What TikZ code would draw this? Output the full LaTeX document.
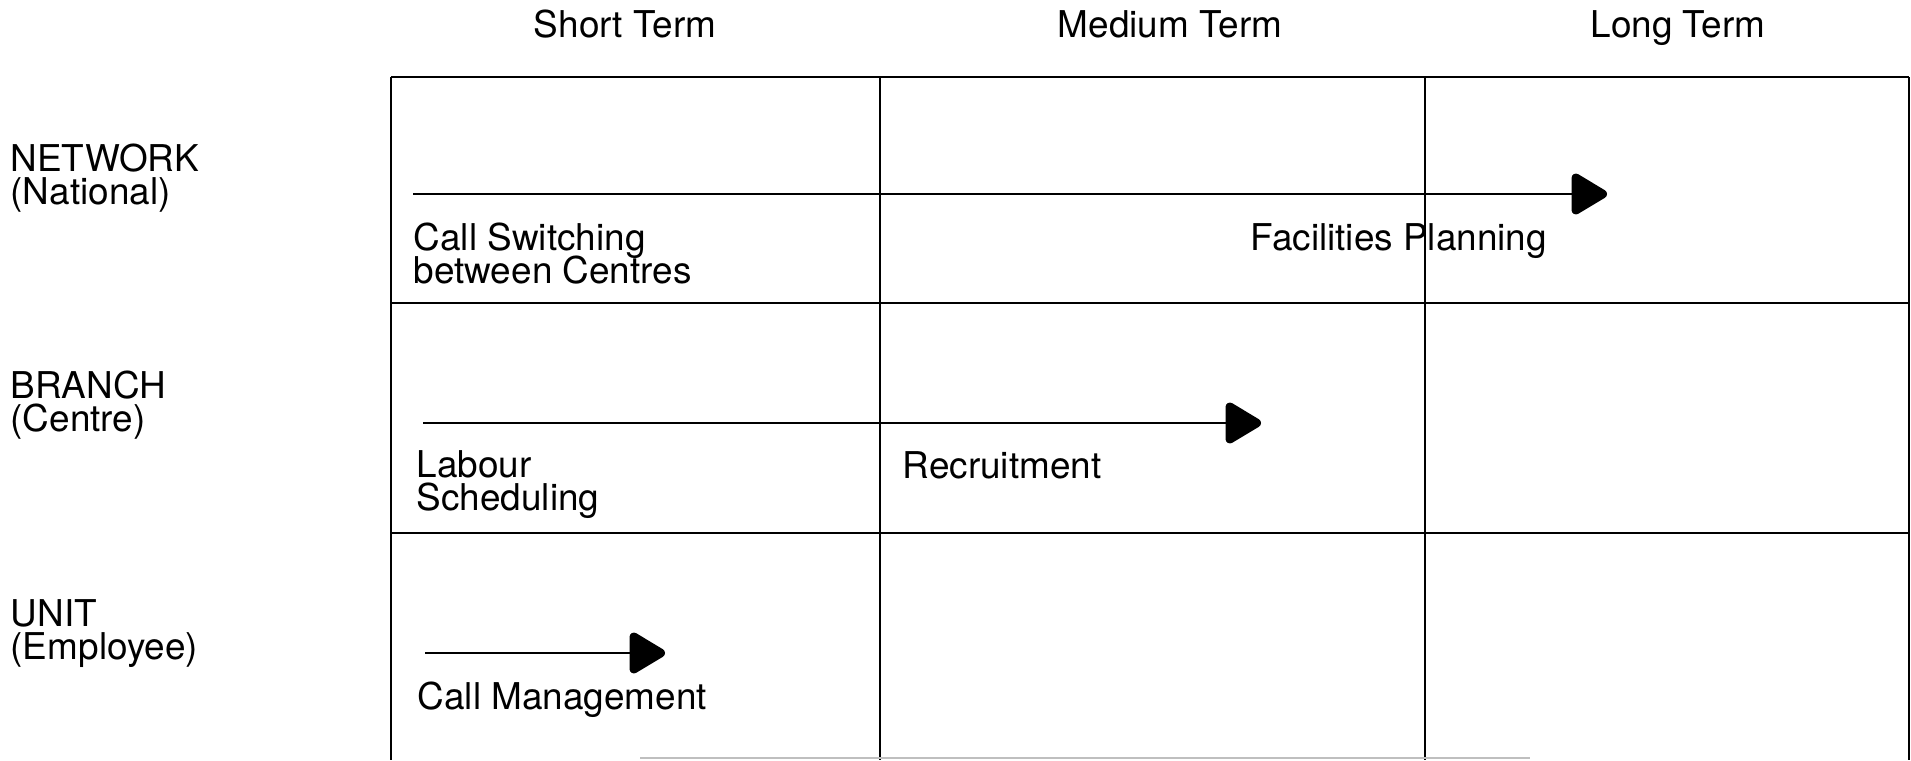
\documentclass[tikz,border=0pt]{standalone}
\usepackage{fontspec}
\setmainfont{TeX Gyre Heros}
\usetikzlibrary{arrows.meta}
\newcommand{\tightfont}{\fontsize{10.5}{9.4}\selectfont\lineskiplimit=-20pt\relax}

\begin{document}
\begin{tikzpicture}[x=0.01cm,y=-0.01cm]
\tikzstyle{every node}+=[inner sep=0pt]
\tikzstyle{lbl}=[font=\tightfont, align=left, anchor=west]
\tikzstyle{head}=[font=\tightfont, anchor=base]
\tikzstyle{grid}=[line width=0.8pt]
\tikzstyle{flow}=[line width=0.7pt, -{Triangle[length=4mm,width=4.5mm,round,line width'=2.5pt]}]
\useasboundingbox (0,0) rectangle (1911,760);
% column heads
\node[head] (short) at (625,37) {Short Term};
\node[head] (medium) at (1170,37) {Medium Term};
\node[head] (long) at (1678,37) {Long Term};
% row heads
\node[lbl] (network) at (10,178) {NETWORK\\(National)};
\node[lbl] (branch) at (10,405) {BRANCH\\(Centre)};
\node[lbl] (unit) at (10,634) {UNIT\\(Employee)};
% grid
\draw[grid] (391,77) -- (1909,77);
\draw[grid] (391,303) -- (1909,303);
\draw[grid] (391,533) -- (1909,533);
\draw[grid] (391,77) -- (391,760);
\draw[grid] (880,77) -- (880,760);
\draw[grid] (1425,77) -- (1425,760);
\draw[grid] (1909,77) -- (1909,760);
\draw[gray!50, line width=0.5pt] (640,758) -- (1530,758);
% arrows
\coordinate (fp0) at (413,194);
\coordinate (fp1) at (1607,194);
\draw[flow] (fp0) -- (fp1);
\coordinate (rc0) at (423,423);
\coordinate (rc1) at (1261,423);
\draw[flow] (rc0) -- (rc1);
\coordinate (cm0) at (425,653);
\coordinate (cm1) at (665,653);
\draw[flow] (cm0) -- (cm1);
% activity labels
\node[lbl] (switching) at (413,254) {Call Switching\\between Centres};
\node[lbl] (facilities) at (1250,241) {Facilities Planning};
\node[lbl] (labour) at (416,485) {Labour\\Scheduling};
\node[lbl] (recruit) at (902,465) {Recruitment};
\node[lbl] (callmgmt) at (417,700) {Call Management};
\end{tikzpicture}
\end{document}
